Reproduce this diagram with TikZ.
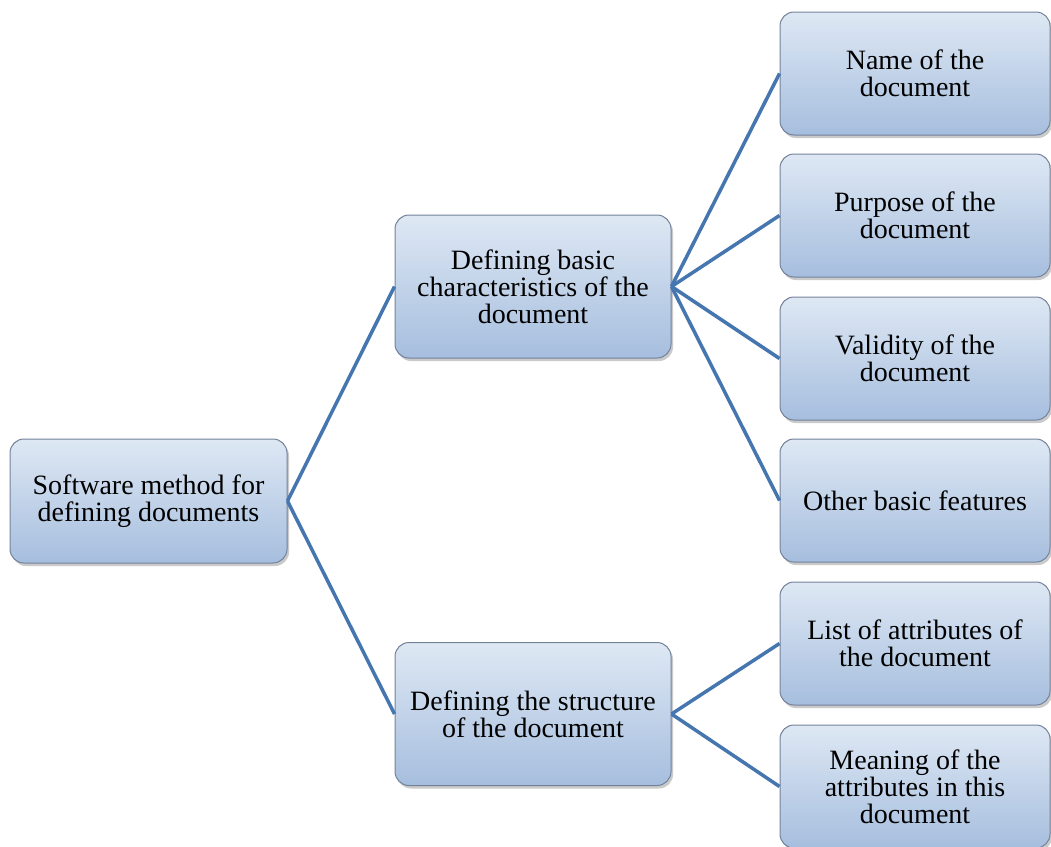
\documentclass[tikz,border=0pt]{standalone}
\usepackage{fontspec}
\setmainfont{Liberation Serif}
\usetikzlibrary{shadows}
\definecolor{boxtop}{RGB}{222,232,244}
\definecolor{boxbot}{RGB}{166,190,222}
\definecolor{boxline}{RGB}{115,130,155}
\definecolor{conn}{RGB}{70,118,176}
\begin{document}
\begin{tikzpicture}[x=1pt,y=-1pt,
  box/.style={rectangle, rounded corners=14pt, draw=boxline, line width=1pt,
    top color=boxtop, bottom color=boxbot, align=center,
    font=\fontsize{28}{27}\selectfont, inner sep=0pt,
    drop shadow={shadow xshift=2pt, shadow yshift=-3pt, opacity=0.35, fill=black!60}},
  rootbox/.style={box, minimum width=277pt, minimum height=124pt},
  midbox/.style={box, minimum width=276pt, minimum height=143pt},
  leafbox/.style={box, minimum width=270pt, minimum height=123pt},
  conn/.style={draw=conn, line width=3.5pt}]
\useasboundingbox (0,0) rectangle (1051,846);
\node[rootbox] (root) at (148.5,501) {Software method for\\defining documents};
\node[midbox] (m1) at (533,286.5) {Defining basic\\characteristics of the\\document};
\node[midbox] (m2) at (533,714) {Defining the structure\\of the document};
\node[leafbox] (l1) at (915,73.5) {Name of the\\document};
\node[leafbox] (l2) at (915,215.5) {Purpose of the\\document};
\node[leafbox] (l3) at (915,358.5) {Validity of the\\document};
\node[leafbox] (l4) at (915,500.5) {Other basic features};
\node[leafbox] (l5) at (915,643.5) {List of attributes of\\the document};
\node[leafbox] (l6) at (915,786.5) {Meaning of the\\attributes in this\\document};
\draw[conn] (root.east) -- (m1.west);
\draw[conn] (root.east) -- (m2.west);
\foreach \l in {l1,l2,l3,l4} \draw[conn] (m1.east) -- (\l.west);
\foreach \l in {l5,l6} \draw[conn] (m2.east) -- (\l.west);
\end{tikzpicture}
\end{document}
